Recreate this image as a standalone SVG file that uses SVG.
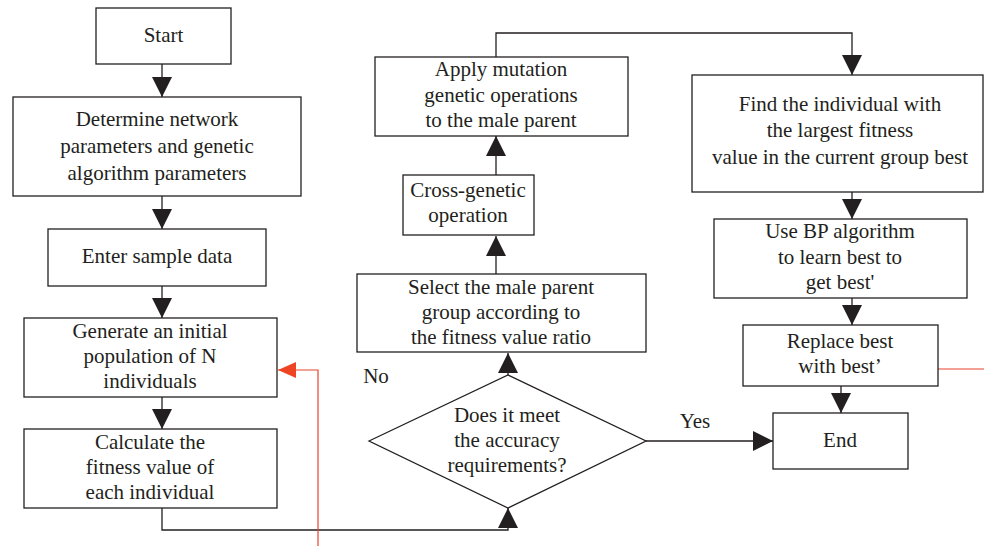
<svg xmlns="http://www.w3.org/2000/svg" width="984" height="546" viewBox="0 0 984 546">
<defs>
<style>
.box{fill:#fff;stroke:#231f20;stroke-width:1.3}
.t{font-family:"Liberation Serif","Times New Roman",serif;font-size:21px;fill:#231f20;text-anchor:middle}
.c{fill:none;stroke:#231f20;stroke-width:1.3}
.r{fill:none;stroke:#e8442a;stroke-width:1.2}
</style>
<marker id="ah" viewBox="0 0 20 20" markerUnits="userSpaceOnUse" markerWidth="20" markerHeight="20" refX="20" refY="10" orient="auto">
<path d="M0,0 L20,10 L0,20 z" fill="#231f20"/>
</marker>
<marker id="ahr" viewBox="0 0 20 20" markerUnits="userSpaceOnUse" markerWidth="20" markerHeight="18" refX="20" refY="10" orient="auto">
<path d="M0,1 L20,10 L0,19 z" fill="#ef4423"/>
</marker>
</defs>
<rect width="984" height="546" fill="#fff"/>
<g id="connectors">
<path class="c" d="M162,64 V97" marker-end="url(#ah)"/>
<path class="c" d="M162,196 V229" marker-end="url(#ah)"/>
<path class="c" d="M162,286 V318" marker-end="url(#ah)"/>
<path class="c" d="M162,397 V429" marker-end="url(#ah)"/>
<path class="c" d="M162,508 V530 H508 V508" marker-end="url(#ah)"/>
<path class="c" d="M508,375 V353" marker-end="url(#ah)"/>
<path class="c" d="M496,274 V236" marker-end="url(#ah)"/>
<path class="c" d="M496,175 V136" marker-end="url(#ah)"/>
<path class="c" d="M496,57 V33 H852 V75" marker-end="url(#ah)"/>
<path class="c" d="M852,192 V219" marker-end="url(#ah)"/>
<path class="c" d="M852,298 V325" marker-end="url(#ah)"/>
<path class="c" d="M841,386 V413" marker-end="url(#ah)"/>
<path class="c" d="M646,441 H773" marker-end="url(#ah)"/>
<path class="r" d="M984,369 H938"/>
<path class="r" d="M318,546 V370 H278" marker-end="url(#ahr)"/>
<text class="t" x="376" y="383">No</text>
<text class="t" x="695" y="428">Yes</text>
</g>
<g id="start">
<rect class="box" x="96" y="8" width="135" height="56"/>
<text class="t" x="163.5" y="42">Start</text>
</g>
<g id="determine">
<rect class="box" x="13" y="97" width="288" height="99"/>
<text class="t" x="157" y="126">Determine network</text>
<text class="t" x="157" y="153">parameters and genetic</text>
<text class="t" x="157" y="180">algorithm parameters</text>
</g>
<g id="enter">
<rect class="box" x="48" y="229" width="218" height="57"/>
<text class="t" x="157" y="263">Enter sample data</text>
</g>
<g id="generate">
<rect class="box" x="24" y="318" width="253" height="79"/>
<text class="t" x="150" y="338">Generate an initial</text>
<text class="t" x="150" y="363">population of N</text>
<text class="t" x="150" y="388">individuals</text>
</g>
<g id="calculate">
<rect class="box" x="24" y="429" width="253" height="79"/>
<text class="t" x="150" y="449">Calculate the</text>
<text class="t" x="150" y="474">fitness value of</text>
<text class="t" x="150" y="499">each individual</text>
</g>
<g id="decision">
<polygon class="box" points="369,441 508,375 646,441 508,508"/>
<text class="t" x="507" y="422">Does it meet</text>
<text class="t" x="507" y="447">the accuracy</text>
<text class="t" x="507" y="472">requirements?</text>
</g>
<g id="select">
<rect class="box" x="357" y="274" width="289" height="78"/>
<text class="t" x="501" y="294">Select the male parent</text>
<text class="t" x="501" y="319">group according to</text>
<text class="t" x="501" y="344">the fitness value ratio</text>
</g>
<g id="cross">
<rect class="box" x="403" y="175" width="131" height="60"/>
<text class="t" x="468" y="197">Cross-genetic</text>
<text class="t" x="468" y="222">operation</text>
</g>
<g id="apply">
<rect class="box" x="375" y="57" width="253" height="79"/>
<text class="t" x="501" y="76">Apply mutation</text>
<text class="t" x="501" y="102">genetic operations</text>
<text class="t" x="501" y="127">to the male parent</text>
</g>
<g id="find">
<rect class="box" x="692" y="75" width="291" height="117"/>
<text class="t" x="840" y="111">Find the individual with</text>
<text class="t" x="840" y="137">the largest fitness</text>
<text class="t" x="840" y="164">value in the current group best</text>
</g>
<g id="usebp">
<rect class="box" x="714" y="219" width="253" height="79"/>
<text class="t" x="840" y="238">Use BP algorithm</text>
<text class="t" x="840" y="264">to learn best to</text>
<text class="t" x="840" y="289">get best'</text>
</g>
<g id="replace">
<rect class="box" x="743" y="325" width="195" height="61"/>
<text class="t" x="840" y="348">Replace best</text>
<text class="t" x="840" y="373">with best’</text>
</g>
<g id="end">
<rect class="box" x="773" y="413" width="135" height="56"/>
<text class="t" x="840" y="447">End</text>
</g>
</svg>
